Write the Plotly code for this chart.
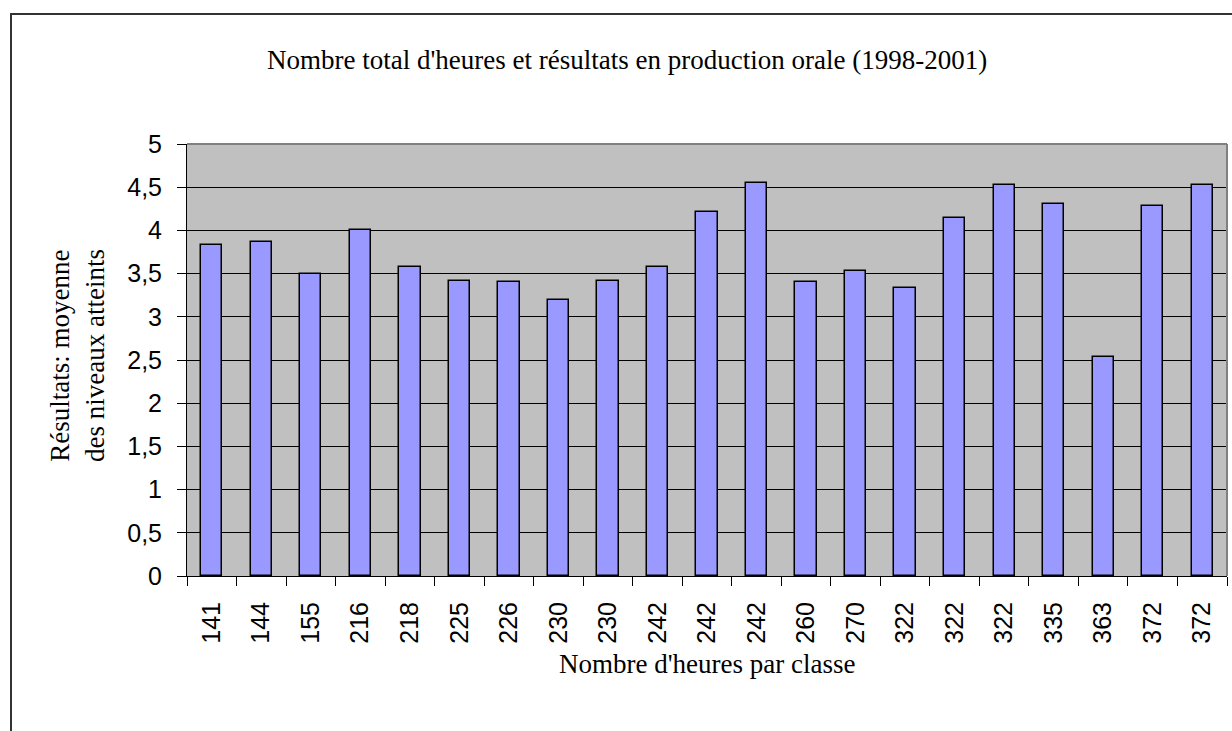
import plotly.graph_objects as go

hours_labels = ["141", "144", "155", "216", "218", "225", "226", "230", "230", "242",
                "242", "242", "260", "270", "322", "322", "322", "335", "363", "372", "372"]
results = [3.83, 3.87, 3.49, 4.01, 3.58, 3.42, 3.40, 3.19, 3.42, 3.58,
           4.21, 4.55, 3.40, 3.53, 3.33, 4.14, 4.53, 4.30, 2.54, 4.28, 4.53]
y_ticks = [0, 0.5, 1, 1.5, 2, 2.5, 3, 3.5, 4, 4.5, 5]
y_ticktext = ["0", "0,5", "1", "1,5", "2", "2,5", "3", "3,5", "4", "4,5", "5"]

title_text = "Nombre total d'heures et résultats en production orale (1998-2001)"
x_title = "Nombre d'heures par classe"
y_title = "Résultats: moyenne<br>des niveaux atteints"

x_pos = list(range(len(hours_labels)))

fig = go.Figure()
fig.add_trace(go.Bar(
    x=x_pos, y=results, width=0.43,
    marker=dict(color="#9999FF", line=dict(color="black", width=1.5)),
    hoverinfo="y",
))

W, H = 1232, 731
L, R, T, B = 187, 5, 144, 155
pw, ph = W - L - R, H - T - B

def px(xp):
    return (xp - L) / pw

def py(yp):
    return (H - B - yp) / ph

serif = "Liberation Serif, Times New Roman, serif"
sans = "Liberation Sans, Arial, sans-serif"

fig.update_layout(
    width=W, height=H,
    margin=dict(l=L, r=R, t=T, b=B),
    paper_bgcolor="white",
    plot_bgcolor="#C0C0C0",
    showlegend=False,
    bargap=0,
    xaxis=dict(
        range=[-0.5, len(hours_labels) - 0.5],
        tickmode="array", tickvals=x_pos, ticktext=hours_labels,
        tickangle=-90, ticks="", showgrid=False, zeroline=False,
        showline=True, linecolor="black", linewidth=1,
        tickfont=dict(family=sans, size=25, color="black"),
        ticklabelstandoff=15,
        minor=dict(tickmode="linear", tick0=-0.5, dtick=1, ticks="outside",
                   ticklen=9, tickcolor="black", tickwidth=1, showgrid=False),
        fixedrange=True,
    ),
    yaxis=dict(
        range=[0, 5], tickmode="array", tickvals=y_ticks, ticktext=y_ticktext,
        ticks="outside", ticklen=9, tickcolor="black", tickwidth=1,
        showgrid=True, gridcolor="black", gridwidth=1, zeroline=False,
        showline=True, linecolor="black", linewidth=1,
        tickfont=dict(family=sans, size=25, color="black"),
        ticklabelstandoff=10,
        fixedrange=True,
    ),
    annotations=[
        dict(text=title_text, xref="paper", yref="paper", x=px(627), y=py(60),
             xanchor="center", yanchor="middle", showarrow=False,
             font=dict(family=serif, size=27, color="black")),
        dict(text=x_title, xref="paper", yref="paper", x=px(707), y=py(664),
             xanchor="center", yanchor="middle", showarrow=False,
             font=dict(family=serif, size=27, color="black")),
        dict(text=y_title, xref="paper", yref="paper", x=px(77), y=py(356),
             xanchor="center", yanchor="middle", showarrow=False, textangle=-90,
             font=dict(family=serif, size=27, color="black")),
    ],
    shapes=[
        dict(type="rect", xref="paper", yref="paper",
             x0=px(11), x1=px(1245), y0=py(745), y1=py(14),
             line=dict(color="#333333", width=2), fillcolor="rgba(0,0,0,0)", layer="below"),
        dict(type="line", xref="paper", yref="paper", x0=1, x1=1, y0=0, y1=1,
             line=dict(color="#808080", width=2)),
        dict(type="line", xref="paper", yref="paper", x0=0, x1=1, y0=1, y1=1,
             line=dict(color="#808080", width=2)),
    ],
)

fig.write_html("out.html", config={"displayModeBar": False},
               post_script="document.body.style.margin='0';document.body.style.overflow='hidden';")
